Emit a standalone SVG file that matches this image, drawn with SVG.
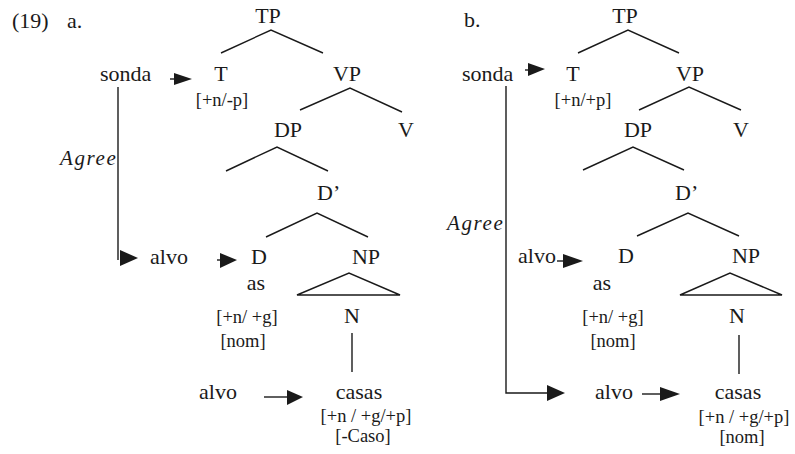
<svg xmlns="http://www.w3.org/2000/svg" width="795" height="454" viewBox="0 0 795 454">
<style>
text{font-family:"Liberation Serif","Times New Roman",serif;fill:#1a1a1a}
.m{font-size:22px;text-anchor:middle}
.s{font-size:22px}
.f{font-size:18.5px;text-anchor:middle}
.f2{font-size:18.5px;text-anchor:middle}
.ag{font-size:21px;font-style:italic;letter-spacing:1.6px}
.br{stroke:#1a1a1a;stroke-width:1.4;fill:none}
.ah{fill:#1a1a1a}
</style>
<rect width="795" height="454" fill="#fff"/>
<g id="labels">
<text class="s" x="12" y="28">(19)</text>
<text class="s" x="67" y="28">a.</text>
<text class="s" x="464" y="27">b.</text>
</g>
<g id="treeA">
<g id="a-TP"><text class="m" x="268" y="23">TP</text></g>
<g id="a-sonda"><text class="s" x="100" y="81">sonda</text></g>
<g id="a-T"><text class="m" x="221" y="81">T</text><text class="f2" x="222" y="106">[+n/-p]</text></g>
<g id="a-VP"><text class="m" x="347" y="81">VP</text></g>
<g id="a-DP"><text class="m" x="288" y="137">DP</text></g>
<g id="a-V"><text class="m" x="406" y="137">V</text></g>
<g id="a-Dbar"><text class="s" x="317" y="200">D’</text></g>
<g id="a-D"><text class="m" x="259" y="264">D</text><text class="m" x="256" y="290">as</text><text class="f" x="247" y="323">[+n/ +g]</text><text class="f" x="243" y="347">[nom]</text></g>
<g id="a-NP"><text class="m" x="366" y="264">NP</text></g>
<g id="a-N"><text class="m" x="352" y="323">N</text></g>
<g id="a-casas"><text class="m" x="359" y="399">casas</text><text class="f" x="366" y="422">[+n / +g/+p]</text><text class="f" x="363" y="442">[-Caso]</text></g>
<g id="a-alvo1"><text class="s" x="150" y="264">alvo</text></g>
<g id="a-alvo2"><text class="s" x="199" y="399">alvo</text></g>
<g id="a-agree"><text class="ag" x="60" y="165">Agree</text></g>
</g>
<g id="treeB">
<g id="b-TP"><text class="m" x="625" y="23">TP</text></g>
<g id="b-sonda"><text class="s" x="462" y="81">sonda</text></g>
<g id="b-T"><text class="m" x="573" y="81">T</text><text class="f2" x="583" y="106">[+n/+p]</text></g>
<g id="b-VP"><text class="m" x="690" y="81">VP</text></g>
<g id="b-DP"><text class="m" x="638" y="137">DP</text></g>
<g id="b-V"><text class="m" x="741" y="137">V</text></g>
<g id="b-Dbar"><text class="s" x="675" y="200">D’</text></g>
<g id="b-D"><text class="m" x="626" y="263">D</text><text class="m" x="602" y="290">as</text><text class="f" x="613" y="323">[+n/ +g]</text><text class="f" x="613" y="347">[nom]</text></g>
<g id="b-NP"><text class="m" x="746" y="263">NP</text></g>
<g id="b-N"><text class="m" x="737" y="323">N</text></g>
<g id="b-casas"><text class="m" x="738" y="399">casas</text><text class="f" x="744" y="423">[+n / +g/+p]</text><text class="f" x="742" y="443">[nom]</text></g>
<g id="b-alvo1"><text class="s" x="518" y="263">alvo</text></g>
<g id="b-alvo2"><text class="s" x="595" y="399">alvo</text></g>
<g id="b-agree"><text class="ag" x="447" y="230">Agree</text></g>
</g>
<g id="connectors">
<path class="br" d="M221 53 L271 30 L323 53"/>
<path class="br" d="M300 110 L350 88 L402 112"/>
<path class="br" d="M226 171 L277 147 L328 171"/>
<path class="br" d="M266 237 L317 213 L368 237"/>
<path class="br" d="M297 295 L349 273 L400 295 Z"/>
<path class="br" d="M352 333 L352 372"/>
<path class="br" d="M578 53 L628 30 L679 53"/>
<path class="br" d="M639 110 L689 87 L741 110"/>
<path class="br" d="M583 170 L633 147 L684 170"/>
<path class="br" d="M637 236 L688 213 L739 236"/>
<path class="br" d="M680 295 L730 273 L782 295 Z"/>
<path class="br" d="M739 335 L739 374"/>
<path class="br" d="M170 79 L176 79"/>
<polygon class="ah" points="174,73 192,79 174,85"/>
<path class="br" d="M118 87 L118 260"/>
<polygon class="ah" points="120,250 138,258 120,266"/>
<path class="br" d="M217 260 L222 260"/>
<polygon class="ah" points="220,253 237,260 220,268"/>
<path class="br" d="M264 397 L289 397"/>
<polygon class="ah" points="287,390 303,397 287,405"/>
<path class="br" d="M525 70 L530 70"/>
<polygon class="ah" points="528,63 545,69 528,76"/>
<path class="br" d="M506 86 L506 393 L549 393"/>
<polygon class="ah" points="547,385 565,393 547,401"/>
<path class="br" d="M557 261 L565 261"/>
<polygon class="ah" points="563,254 583,261 563,268"/>
<path class="br" d="M642 394 L662 394"/>
<polygon class="ah" points="660,387 680,394 660,401"/>
</g>
</svg>
